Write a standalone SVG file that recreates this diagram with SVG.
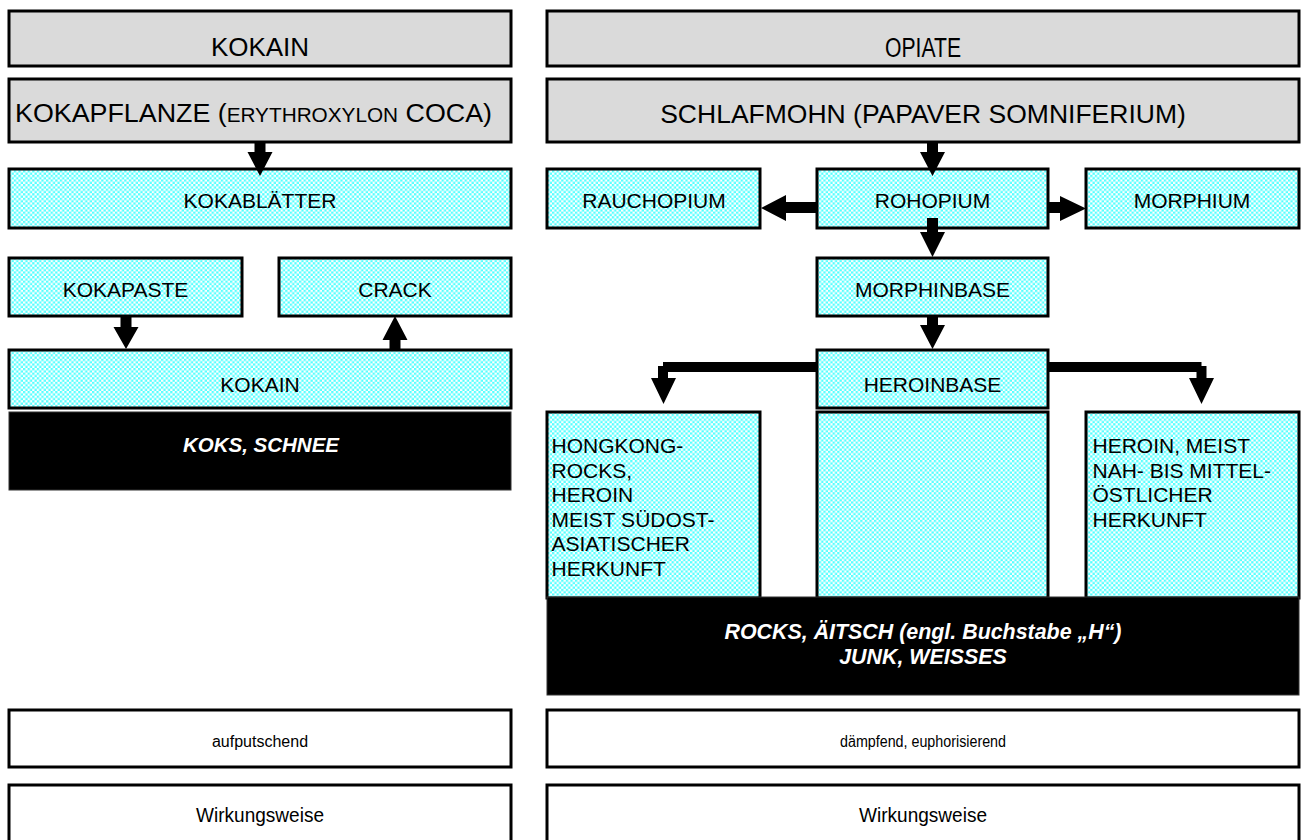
<svg xmlns="http://www.w3.org/2000/svg" width="1302" height="840" viewBox="0 0 1302 840">
<defs>
<pattern id="chk" width="4.6" height="4.6" patternUnits="userSpaceOnUse">
<rect width="4.6" height="4.6" fill="#ffffff"/>
<rect width="2.3" height="2.3" fill="#55ffff"/>
<rect x="2.3" y="2.3" width="2.3" height="2.3" fill="#55ffff"/>
</pattern>
</defs>
<style>
.grey{fill:#dadada;stroke:#000;stroke-width:3}
.cy{fill:url(#chk);stroke:#000;stroke-width:3}
.wh{fill:#fff;stroke:#000;stroke-width:3}
.bk{fill:#000;stroke:#333;stroke-width:1}
text{font-family:"Liberation Sans",Arial,sans-serif;fill:#000}
.c{text-anchor:middle}
.h{font-size:26px}
.m{font-size:21px}
.t{font-size:21px}
.s{font-size:16px}
.bi{font-weight:bold;font-style:italic;fill:#fff;font-size:21.4px}
.arr{fill:#000}
</style>
<g id="kokain-header"><rect class="grey" x="9" y="11" width="502" height="55"/><text class="c h" x="260" y="56">KOKAIN</text></g>
<g id="opiate-header"><rect class="grey" x="547" y="11" width="752" height="55"/><text class="c" x="923" y="57" style="font-size:27px" textLength="76" lengthAdjust="spacingAndGlyphs">OPIATE</text></g>
<g id="kokapflanze"><rect class="grey" x="9" y="79" width="502" height="63"/><text x="15" y="122" style="font-size:26.5px" textLength="477" lengthAdjust="spacingAndGlyphs">KOKAPFLANZE (<tspan style="font-size:20.5px">ERYTHROXYLON</tspan> COCA)</text></g>
<g id="schlafmohn"><rect class="grey" x="547" y="79" width="752" height="63"/><text class="c" x="923" y="123" style="font-size:26.5px">SCHLAFMOHN (PAPAVER SOMNIFERIUM)</text></g>
<g id="kokablaetter"><rect class="cy" x="9" y="169" width="502" height="59"/><text class="c m" x="260" y="208">KOKABLÄTTER</text></g>
<g id="rauchopium"><rect class="cy" x="547" y="169" width="213" height="59"/><text class="c m" x="654" y="208">RAUCHOPIUM</text></g>
<g id="rohopium"><rect class="cy" x="817" y="169" width="231" height="59"/><text class="c m" x="932.5" y="208">ROHOPIUM</text></g>
<g id="morphium"><rect class="cy" x="1086" y="169" width="213" height="59"/><text class="c m" x="1192" y="208">MORPHIUM</text></g>
<g id="kokapaste"><rect class="cy" x="9" y="258" width="233" height="58"/><text class="c m" x="125.5" y="297">KOKAPASTE</text></g>
<g id="crack"><rect class="cy" x="279" y="258" width="232" height="58"/><text class="c m" x="395" y="297">CRACK</text></g>
<g id="morphinbase"><rect class="cy" x="817" y="258" width="231" height="58"/><text class="c m" x="932.5" y="297">MORPHINBASE</text></g>
<g id="kokain"><rect class="cy" x="9" y="350" width="502" height="58"/><text class="c m" x="260" y="392">KOKAIN</text></g>
<g id="heroinbase"><rect class="cy" x="817" y="350" width="231" height="58"/><text class="c m" x="932.5" y="392">HEROINBASE</text></g>
<g id="koks-schnee"><rect class="bk" x="9" y="412" width="502" height="78"/><text class="c bi" x="261" y="452" style="font-size:20.5px">KOKS, SCHNEE</text></g>
<g id="hongkong"><rect class="cy" x="547" y="412" width="213" height="186"/>
<text class="t" x="551.5" y="453">HONGKONG-</text>
<text class="t" x="551.5" y="478">ROCKS,</text>
<text class="t" x="551.5" y="502">HEROIN</text>
<text class="t" x="551.5" y="527">MEIST SÜDOST-</text>
<text class="t" x="551.5" y="551">ASIATISCHER</text>
<text class="t" x="551.5" y="576">HERKUNFT</text>
</g>
<g id="middle-column"><rect class="cy" x="817" y="412" width="231" height="186"/></g>
<g id="nahost"><rect class="cy" x="1086" y="412" width="213" height="186"/>
<text class="t" x="1092.5" y="453">HEROIN, MEIST</text>
<text class="t" x="1092.5" y="478">NAH- BIS MITTEL-</text>
<text class="t" x="1092.5" y="502">ÖSTLICHER</text>
<text class="t" x="1092.5" y="527">HERKUNFT</text>
</g>
<g id="rocks"><rect class="bk" x="547" y="597" width="752" height="98"/><text class="c bi" x="923" y="639">ROCKS, ÄITSCH (engl. Buchstabe „H“)</text><text class="c bi" x="923" y="664">JUNK, WEISSES</text></g>
<g id="aufputschend"><rect class="wh" x="9" y="710" width="502" height="57"/><text class="c s" x="260" y="747">aufputschend</text></g>
<g id="daempfend"><rect class="wh" x="547" y="710" width="752" height="57"/><text class="c s" x="923" y="747" textLength="166" lengthAdjust="spacingAndGlyphs">dämpfend, euphorisierend</text></g>
<g id="wirkung-left"><rect class="wh" x="9" y="785" width="502" height="70"/><text class="c" x="260" y="822" style="font-size:21px" textLength="128" lengthAdjust="spacingAndGlyphs">Wirkungsweise</text></g>
<g id="wirkung-right"><rect class="wh" x="547" y="785" width="752" height="70"/><text class="c" x="923" y="822" style="font-size:21px" textLength="128" lengthAdjust="spacingAndGlyphs">Wirkungsweise</text></g>
<g id="connectors">
<polygon class="arr" points="254.5,142 265.5,142 265.5,152 272.5,152 260,176 247.5,152 254.5,152"/>
<polygon class="arr" points="927,142 938,142 938,152 945,152 932.5,176 920,152 927,152"/>
<polygon class="arr" points="927,218 938,218 938,232 945,232 932.5,257 920,232 927,232"/>
<polygon class="arr" points="927,316 938,316 938,325 945,325 932.5,349 920,325 927,325"/>
<polygon class="arr" points="817,202 786,202 786,195 761,208 786,221 786,213 817,213"/>
<polygon class="arr" points="1048,202 1060,202 1060,196 1086,208.5 1060,221 1060,213 1048,213"/>
<polygon class="arr" points="120.5,316 131.5,316 131.5,327 138.5,327 126,349 113.5,327 120.5,327"/>
<polygon class="arr" points="389.5,350 400.5,350 400.5,340 407.5,340 395,316 382.5,340 389.5,340"/>
<polygon class="arr" points="817,362 663,362 663,366 658,366 658,378 651,378 663.5,404 676,378 668,378 668,372 817,372"/>
<polygon class="arr" points="1048,362 1201.5,362 1201.5,366 1206.5,366 1206.5,378 1214,378 1201.5,404 1189,378 1196.5,378 1196.5,372 1048,372"/>
</g>
</svg>
